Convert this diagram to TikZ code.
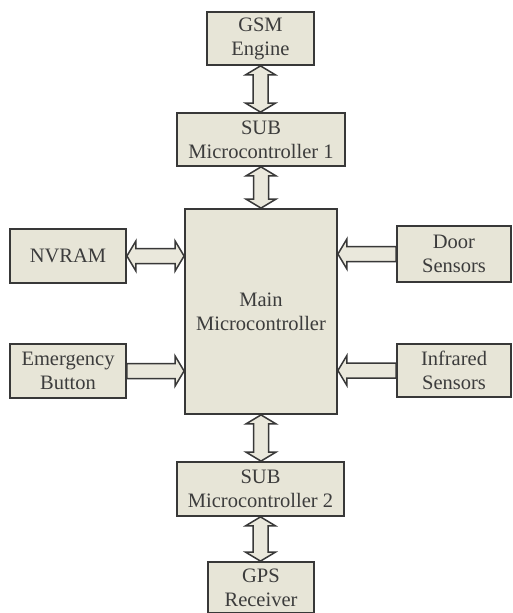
\documentclass[tikz,border=0pt]{standalone}
\usepackage{fontspec}
\setmainfont{Liberation Serif}
\usetikzlibrary{calc}
\definecolor{boxfill}{HTML}{E7E5D7}
\definecolor{arrowfill}{HTML}{EAE8DC}
\definecolor{edge}{HTML}{383838}
\definecolor{ink}{HTML}{3C3C3C}
\tikzset{
  block/.style={draw=edge, fill=boxfill, line width=1.8pt, align=center,
    text=ink, inner sep=0pt, font=\fontsize{20.5}{24}\selectfont},
  fat/.style={draw=edge, fill=arrowfill, line width=1.5pt, line join=miter}
}
% two-headed vertical arrow from the bottom of #1 to the top of #2
\newcommand\fatupdown[2]{%
  \draw[fat] let \p1=(#1.south), \p2=(#2.north) in
    (\x1,\y1) -- (\x1+15pt,\y1-9pt) -- (\x1+7.5pt,\y1-9pt) -- (\x1+7.5pt,\y2+9pt)
    -- (\x1+15pt,\y2+9pt) -- (\x1,\y2) -- (\x1-15pt,\y2+9pt) -- (\x1-7.5pt,\y2+9pt)
    -- (\x1-7.5pt,\y1-9pt) -- (\x1-15pt,\y1-9pt) -- cycle;}
% two-headed horizontal arrow from the right side of #1 to the left side of #2
\newcommand\fatleftright[2]{%
  \draw[fat] let \p1=(#1.east), \p2=(#1.east -| #2.west) in
    (\x1,\y1) -- (\x1+9pt,\y1+15pt) -- (\x1+9pt,\y1+7.5pt) -- (\x2-9pt,\y1+7.5pt)
    -- (\x2-9pt,\y1+15pt) -- (\x2,\y1) -- (\x2-9pt,\y1-15pt) -- (\x2-9pt,\y1-7.5pt)
    -- (\x1+9pt,\y1-7.5pt) -- (\x1+9pt,\y1-15pt) -- cycle;}
% one-headed arrow from the right side of #1 into the left side of #2
\newcommand\fatintoright[2]{%
  \draw[fat] let \p1=(#1.east), \p2=(#1.east -| #2.west) in
    (\x1,\y1+7.5pt) -- (\x2-9pt,\y1+7.5pt) -- (\x2-9pt,\y1+15pt) -- (\x2,\y1)
    -- (\x2-9pt,\y1-15pt) -- (\x2-9pt,\y1-7.5pt) -- (\x1,\y1-7.5pt) -- cycle;}
% one-headed arrow from the left side of #1 into the right side of #2
\newcommand\fatintoleft[2]{%
  \draw[fat] let \p1=(#1.west), \p2=(#1.west -| #2.east) in
    (\x1,\y1+7.5pt) -- (\x2+9pt,\y1+7.5pt) -- (\x2+9pt,\y1+15pt) -- (\x2,\y1)
    -- (\x2+9pt,\y1-15pt) -- (\x2+9pt,\y1-7.5pt) -- (\x1,\y1-7.5pt) -- cycle;}
\begin{document}
\begin{tikzpicture}[x=1pt, y=-1pt]
  \fill[white] (0,0) rectangle (512,613);
  \useasboundingbox (0,0) rectangle (512,613);

  \node[block, minimum width=107pt, minimum height=53pt] (gsm)   at (260.5,38.5) {GSM\\Engine};
  \node[block, minimum width=168pt, minimum height=53pt] (sub1)  at (261,139.5) {SUB\\Microcontroller 1};
  \node[block, minimum width=152pt, minimum height=205pt] (main) at (261,311.5) {Main\\Microcontroller};
  \node[block, minimum width=167pt, minimum height=54pt] (sub2)  at (260.5,489) {SUB\\Microcontroller 2};
  \node[block, minimum width=106pt, minimum height=51pt] (gps)   at (261,587.5) {GPS\\Receiver};

  \node[block, minimum width=116pt, minimum height=54pt] (nvram) at (68,256) {NVRAM};
  \node[block, minimum width=116pt, minimum height=54pt] (emerg) at (68,371) {Emergency\\Button};
  \node[block, minimum width=114pt, minimum height=56pt] (door)  at (454,254) {Door\\Sensors};
  \node[block, minimum width=114pt, minimum height=53pt] (infra) at (454,370.5) {Infrared\\Sensors};

  \fatupdown{gsm}{sub1}
  \fatupdown{sub1}{main}
  \fatupdown{main}{sub2}
  \fatupdown{sub2}{gps}
  \fatleftright{nvram}{main}
  \fatintoright{emerg}{main}
  \fatintoleft{door}{main}
  \fatintoleft{infra}{main}
\end{tikzpicture}
\end{document}
